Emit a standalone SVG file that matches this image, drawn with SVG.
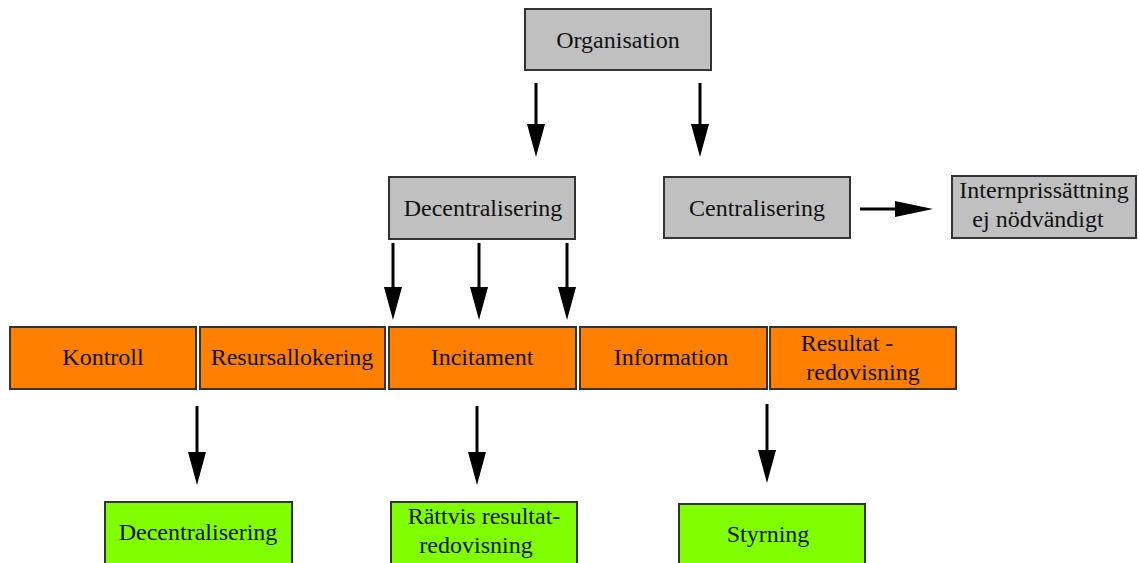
<svg xmlns="http://www.w3.org/2000/svg" width="1139" height="563" viewBox="0 0 1139 563">
<style>
.box{stroke:#333;stroke-width:2}
.gray{fill:#c0c0c0}
.orange{fill:#ff8000}
.green{fill:#80ff00}
.lbl{font-size:24px;fill:#111;text-anchor:middle}
.shaft{stroke:#000;stroke-width:3}
.head{fill:#000}
</style>
<rect width="1139" height="563" fill="#fff"/>
<g font-family="Liberation Serif, serif">
<g id="organisation"><rect class="box gray" x="525" y="9" width="186" height="61"/><text class="lbl" x="618" y="48">Organisation</text></g>
<g id="decentralisering"><rect class="box gray" x="389" y="177" width="186" height="62"/><text class="lbl" x="483" y="216">Decentralisering</text></g>
<g id="centralisering"><rect class="box gray" x="664" y="177" width="186" height="61"/><text class="lbl" x="757" y="216">Centralisering</text></g>
<g id="internpris"><rect class="box gray" x="952" y="176" width="184" height="62"/><text class="lbl" x="1044" y="198">Internprissättning</text><text class="lbl" x="1038" y="227">ej nödvändigt</text></g>
<g id="kontroll"><rect class="box orange" x="10" y="327" width="186" height="62"/><text class="lbl" x="103" y="365">Kontroll</text></g>
<g id="resursallokering"><rect class="box orange" x="200" y="327" width="185" height="62"/><text class="lbl" x="292" y="365">Resursallokering</text></g>
<g id="incitament"><rect class="box orange" x="389" y="327" width="187" height="62"/><text class="lbl" x="482" y="365">Incitament</text></g>
<g id="information"><rect class="box orange" x="580" y="327" width="187" height="62"/><text class="lbl" x="671" y="365">Information</text></g>
<g id="resultatredovisning"><rect class="box orange" x="770" y="327" width="186" height="62"/><text class="lbl" x="847" y="351">Resultat -</text><text class="lbl" x="863" y="380">redovisning</text></g>
<g id="decentralisering2"><rect class="box green" x="105" y="502" width="187" height="66"/><text class="lbl" x="198" y="540">Decentralisering</text></g>
<g id="rattvis"><rect class="box green" x="391" y="502" width="186" height="66"/><text class="lbl" x="484" y="524">Rättvis resultat-</text><text class="lbl" x="476" y="553">redovisning</text></g>
<g id="styrning"><rect class="box green" x="679" y="504" width="186" height="64"/><text class="lbl" x="768" y="542">Styrning</text></g>
</g>
<g id="connectors">
<g class="shaft">
<line x1="536" y1="83" x2="536" y2="130"/>
<line x1="700" y1="83" x2="700" y2="130"/>
<line x1="393" y1="243" x2="393" y2="293"/>
<line x1="479" y1="243" x2="479" y2="293"/>
<line x1="567" y1="243" x2="567" y2="293"/>
<line x1="860" y1="209" x2="900" y2="209"/>
<line x1="197" y1="406" x2="197" y2="457"/>
<line x1="477" y1="406" x2="477" y2="457"/>
<line x1="767" y1="404" x2="767" y2="455"/>
</g>
<g class="head">
<path d="M527,124 L536,157 L545,124 z"/>
<path d="M691,124 L700,157 L709,124 z"/>
<path d="M384,287 L393,320 L402,287 z"/>
<path d="M470,287 L479,320 L488,287 z"/>
<path d="M558,287 L567,320 L576,287 z"/>
<path d="M895,201 L933,209 L895,217 z"/>
<path d="M188,452 L197,485 L206,452 z"/>
<path d="M468,452 L477,485 L486,452 z"/>
<path d="M758,450 L767,483 L776,450 z"/>
</g>
</g>
</svg>
